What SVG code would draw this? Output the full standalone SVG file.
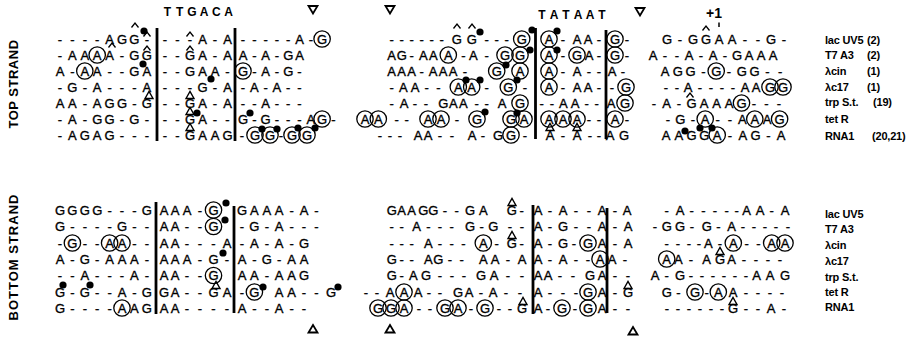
<svg xmlns="http://www.w3.org/2000/svg" xmlns:xlink="http://www.w3.org/1999/xlink" width="919" height="337" viewBox="0 0 919 337">
<style>
.s{font-family:"Liberation Sans",Arial,sans-serif;font-size:13px;text-anchor:middle;fill:#000;stroke:#000;stroke-width:0.35}
.c{fill:none;stroke:#000;stroke-width:1.3}
.d{fill:#000}
.bar{stroke:#000;stroke-width:2.8}
.car{fill:none;stroke:#000;stroke-width:1.3}
.tri{fill:none;stroke:#000;stroke-width:1.4}
.mk{fill:none;stroke:#000;stroke-width:1.8}
.lbl{font-family:"Liberation Sans",Arial,sans-serif;font-weight:bold;font-size:11px;letter-spacing:-0.2px;fill:#000}
.hd{font-family:"Liberation Sans",Arial,sans-serif;font-weight:bold;font-size:12px;text-anchor:middle;fill:#000}
.side{font-family:"Liberation Sans",Arial,sans-serif;font-weight:bold;font-size:13px;text-anchor:middle;fill:#000}
</style>
<defs>
<circle id="ci" r="8.2" class="c"/>
<circle id="dt" r="3.6" class="d"/>
<path id="ch" d="M-3.5,2.5 L0,-2 L3.5,2.5" class="car"/>
<path id="tr" d="M-4,3.5 L0,-3.5 L4,3.5 Z" class="tri"/>
</defs>
<rect width="919" height="337" fill="#fff"/>

<!-- headings -->
<g id="headings">
<text class="hd" x="167.5 179.7 191.9 204.1 216.3 228.5" y="16">TTGACA</text>
<text class="hd" x="542 554 566 578 590 602" y="19">TATAAT</text>
<text class="hd" x="714" y="18" style="font-size:14px">+1</text>
<line x1="719" y1="22.5" x2="719" y2="27" stroke="#000" stroke-width="1.5"/>
<path class="mk" d="M308.5,6 L317.5,6 L313,13.5 Z"/>
<path class="mk" d="M385.5,6 L394.5,6 L390,13.5 Z"/>
<path class="mk" d="M635.5,8 L644.5,8 L640,15.5 Z"/>
<path class="mk" d="M308.5,332.5 L317.5,332.5 L313,325 Z"/>
<path class="mk" d="M385.5,332.5 L394.5,332.5 L390,325 Z"/>
<path class="mk" d="M628.5,334.5 L637.5,334.5 L633,327 Z"/>
<text class="side" transform="translate(18,84) rotate(-90)" style="letter-spacing:0.5px">TOP STRAND</text>
<text class="side" transform="translate(18,257) rotate(-90)" style="letter-spacing:1px">BOTTOM STRAND</text>
</g>

<!-- vertical bars -->
<g id="bars">
<line class="bar" x1="157" y1="28" x2="157" y2="141"/>
<line class="bar" x1="235" y1="28" x2="235" y2="141"/>
<line class="bar" x1="535.5" y1="28" x2="535.5" y2="139"/>
<line class="bar" x1="606" y1="30" x2="606" y2="139"/>
<line class="bar" x1="156" y1="202" x2="156" y2="314"/>
<line class="bar" x1="234" y1="206" x2="234" y2="313"/>
<line class="bar" x1="533" y1="205" x2="533" y2="314"/>
<line class="bar" x1="607" y1="208" x2="607" y2="313"/>
</g>

<!-- TOP STRAND -->
<g id="top-lacUV5">
<text class="s" x="60 72.4 84.8 97.2 109.6 122 134.4 146.8" y="43.6">----AGG-</text>
<text class="s" x="165 177.5 190 202.5 215 227.5" y="43.6">---A-A</text>
<text class="s" x="243 254.3 265.6 276.9 288.2 299.5 310.8 322.1" y="43.6">-----A-G</text>
<text class="s" x="391.7 401.7 411.7 421.7 431.7 441.7 456.7 471.7 486.7 496.7 506.7 521.7" y="43.6">------GG---G</text>
<text class="s" x="549 563 577 588 599" y="43.6">A-AA-</text>
<text class="s" x="615 627" y="43.6">G-</text>
<text class="s" x="667 680 693 706 719 732 745 758 771 784" y="43.6">G-GGAA--G-</text>
<use href="#ci" x="322.1" y="39"/><use href="#ci" x="521.7" y="39"/><use href="#ci" x="549" y="39"/><use href="#ci" x="615" y="39"/>
<use href="#ch" x="135" y="25"/><use href="#ch" x="147" y="34"/><use href="#ch" x="190" y="34"/>
<use href="#ch" x="457" y="26"/><use href="#ch" x="472" y="26"/><use href="#ch" x="706" y="28"/>
<use href="#dt" x="144" y="31"/><use href="#dt" x="480" y="32"/><use href="#dt" x="532" y="30"/><use href="#dt" x="557" y="31"/>
<text class="lbl" x="825" y="44">lac UV5</text><text class="lbl" x="867" y="44">(2)</text>
</g>

<g id="top-T7A3">
<text class="s" x="60 72.4 84.8 97.2 109.6 122 134.4 146.8" y="59.6">-AAAA-GG</text>
<text class="s" x="165 177.5 190 202.5 215 227.5" y="59.6">--GA-A</text>
<text class="s" x="243 254.3 265.6 276.9 288.2 299.5" y="59.6">A-A-GA</text>
<text class="s" x="391.7 401.7 411.7 423.3 433.3 448.3 463.3 473.3 486.7 505 520" y="59.6">AG-AAA-A-GG</text>
<text class="s" x="549 563 577 589 599" y="59.6">A-GA-</text>
<text class="s" x="615 627" y="59.6">G-</text>
<text class="s" x="653 665 677 689 701 713 725 737 749 761 773" y="59.6">A--A-A-GAAA</text>
<use href="#ci" x="97.2" y="55"/><use href="#ci" x="448.3" y="55"/><use href="#ci" x="505" y="55"/><use href="#ci" x="520" y="55"/>
<use href="#ci" x="549" y="55"/><use href="#ci" x="577" y="55"/><use href="#ci" x="615" y="55"/>
<use href="#ch" x="112" y="45"/><use href="#ch" x="147" y="48"/><use href="#ch" x="190" y="48"/>
<use href="#dt" x="530" y="50"/><use href="#dt" x="557" y="50"/>
<text class="lbl" x="825" y="59">T7 A3</text><text class="lbl" x="867" y="59">(2)</text>
</g>

<g id="top-lcin">
<text class="s" x="60 72.4 84.8 97.2 109.6 122 134.4 146.8" y="75.6">A-AA--GA</text>
<text class="s" x="165 177.5 190 202.5 215 227.5" y="75.6">--GAA-</text>
<text class="s" x="243 254.3 265.6 276.9 288.2 299.5" y="75.6">G-A-G-</text>
<text class="s" x="391.7 401.7 411.7 421.7 433 443 453 465 496.7 520" y="75.6">AAA-AAA-GA</text>
<text class="s" x="549 563 577 589 599" y="75.6">A-A--</text>
<text class="s" x="612 623" y="75.6">A-</text>
<text class="s" x="665 677.8 690.6 703.4 716.2 729 741.8 754.6 767.4 780.2" y="75.6">AGG-G-GG--</text>
<use href="#ci" x="84.8" y="71"/><use href="#ci" x="243" y="71"/><use href="#ci" x="496.7" y="71"/><use href="#ci" x="520" y="71"/>
<use href="#ci" x="549" y="71"/><use href="#ci" x="716.2" y="71"/>
<use href="#dt" x="143" y="64"/><use href="#dt" x="506" y="65"/>
<text class="lbl" x="825" y="75">λcin</text><text class="lbl" x="867" y="75">(1)</text>
</g>

<g id="top-lc17">
<text class="s" x="60 72.4 84.8 97.2 109.6 122 134.4 146.8" y="91.6">-G-A---A</text>
<text class="s" x="165 177.5 190 202.5 215 227.5" y="91.6">---G-A</text>
<text class="s" x="243 254.3 265.6 276.9 288.2 299.5" y="91.6">-A-A--</text>
<text class="s" x="391.7 403.3 415 426.7 438.3 458.3 471.7 486.7 508.3 525" y="91.6">-AA--AA-G-</text>
<text class="s" x="549 563 577 588 599" y="91.6">A-AA-</text>
<text class="s" x="612 626" y="91.6">-G</text>
<text class="s" x="666 677 688 700 711 722 733 745 756 770 783" y="91.6">--A----AAGG</text>
<use href="#ci" x="458.3" y="87"/><use href="#ci" x="471.7" y="87"/><use href="#ci" x="508.3" y="87"/>
<use href="#ci" x="549" y="87"/><use href="#ci" x="626" y="87"/><use href="#ci" x="770" y="87"/><use href="#ci" x="783" y="87"/>
<use href="#dt" x="211" y="79"/><use href="#dt" x="466" y="80"/><use href="#dt" x="480" y="80"/><use href="#dt" x="517" y="80"/>
<text class="lbl" x="825" y="91">λc17</text><text class="lbl" x="867" y="91">(1)</text>
</g>

<g id="top-trpSt">
<text class="s" x="60 72.4 84.8 97.2 109.6 122 134.4 146.8" y="107.6">AA-AGG-G</text>
<text class="s" x="165 177.5 190 202.5 215 227.5" y="107.6">--GA-A</text>
<text class="s" x="243 254.3 265.6 276.9 288.2 299.5" y="107.6">--A---</text>
<text class="s" x="391.7 404 415 426 443.3 453.3 463.3 476.7 486.7 502 520" y="107.6">-A--GAA--AG</text>
<text class="s" x="541.7 552 563.3 575 586.7 596.7" y="107.6">--AA--</text>
<text class="s" x="611 625" y="107.6">AG</text>
<text class="s" x="654 666.5 679 691.5 704 716.5 729 741.5 754 766.5 779" y="107.6">-A-GAAAG---</text>
<use href="#ci" x="520" y="103"/><use href="#ci" x="625" y="103"/><use href="#ci" x="741.5" y="103"/>
<use href="#tr" x="149" y="95"/><use href="#tr" x="190" y="95"/><use href="#ch" x="690" y="95"/>
<text class="lbl" x="825" y="106">trp S.t.</text><text class="lbl" x="873" y="106">(19)</text>
</g>

<g id="top-tetR">
<text class="s" x="60 72.4 84.8 97.2 109.6 122 134.4 146.8" y="123.6">-A-GG-G-</text>
<text class="s" x="165 177.5 190 202.5 215 227.5" y="123.6">--GA--</text>
<text class="s" x="243 254.3 265.6 276.9 288.2 299.5 310.8 322.1 333.4" y="123.6">G-G---AG-</text>
<text class="s" x="365 378.3 396.7 406.7 428 441 457 477" y="123.6">AA--AA-G</text>
<text class="s" x="511 524" y="123.6">GA</text>
<text class="s" x="549 563 577 589 599" y="123.6">AAA--</text>
<text class="s" x="615 627" y="123.6">A-</text>
<text class="s" x="668 680.4 692.8 705.2 717.6 730 742.4 754.8 767.2 779.6" y="123.6">-G-A--AAAG</text>
<use href="#ci" x="322.1" y="119"/><use href="#ci" x="365" y="119"/><use href="#ci" x="378.3" y="119"/>
<use href="#ci" x="428" y="119"/><use href="#ci" x="441" y="119"/><use href="#ci" x="477" y="119"/>
<use href="#ci" x="511" y="119"/><use href="#ci" x="524" y="119"/>
<use href="#ci" x="549" y="119"/><use href="#ci" x="563" y="119"/><use href="#ci" x="577" y="119"/><use href="#ci" x="615" y="119"/>
<use href="#ci" x="705.2" y="119"/><use href="#ci" x="754.8" y="119"/><use href="#ci" x="779.6" y="119"/>
<use href="#tr" x="190" y="111"/>
<use href="#dt" x="197" y="113"/><use href="#dt" x="250" y="113"/><use href="#dt" x="485" y="112"/><use href="#dt" x="517" y="113"/>
<text class="lbl" x="825" y="123">tet R</text>
</g>

<g id="top-RNA1">
<text class="s" x="60 72.4 84.8 97.2 109.6 122 134.4 146.8" y="139.6">-AGAG---</text>
<text class="s" x="165 177.5 190 202.5 215 227.5" y="139.6">--GAAG</text>
<text class="s" x="242 255 270 281 292 307" y="139.6">-GG-GG</text>
<text class="s" x="380 390 400 418 428 440 452 472 483 498 511 525" y="139.6">---AA--A-GG-</text>
<text class="s" x="550 563 577 590 599" y="139.6">A-A--</text>
<text class="s" x="610 624" y="139.6">AG</text>
<text class="s" x="666 678.8 691.6 704.4 717.2 730 742.8 755.6 768.4 781.2" y="139.6">AAGGA-AG-A</text>
<use href="#ci" x="255" y="135"/><use href="#ci" x="270" y="135"/><use href="#ci" x="292" y="135"/><use href="#ci" x="307" y="135"/>
<use href="#ci" x="511" y="135"/><use href="#ci" x="717.2" y="135"/>
<use href="#tr" x="190" y="127"/><use href="#tr" x="550" y="127"/><use href="#tr" x="577" y="127"/>
<use href="#dt" x="262" y="129"/><use href="#dt" x="277" y="129"/><use href="#dt" x="298" y="128"/><use href="#dt" x="315" y="128"/>
<use href="#dt" x="685" y="131"/><use href="#dt" x="700" y="128"/><use href="#dt" x="712" y="128"/>
<text class="lbl" x="825" y="140">RNA1</text><text class="lbl" x="872" y="140">(20,21)</text>
</g>

<!-- BOTTOM STRAND -->
<g id="bot-lacUV5">
<text class="s" x="60 72.4 84.8 97.2 109.6 122 134.4 146.8" y="214.6">GGGG---G</text>
<text class="s" x="164 175 187 200 213.5" y="214.6">AAA-G</text>
<text class="s" x="242 254.4 266.8 279.2 291.6 304 316.4" y="214.6">GAAA-A-</text>
<text class="s" x="391.7 401.7 411.7 423.3 433.3 445 456.7 470 483.3 511.7 521.7" y="214.6">GAAGG--GAG-</text>
<text class="s" x="538 550 563 576 589 602" y="214.6">A-A--A</text>
<text class="s" x="615 627" y="214.6">-A</text>
<text class="s" x="666.7 680 691.7 703.3 715 726.7 736.7 746.7 760 771.7 785" y="214.6">-A-----AA-A</text>
<use href="#ci" x="213.5" y="210"/>
<use href="#tr" x="512" y="202"/>
<use href="#dt" x="226" y="203"/>
<text class="lbl" x="825" y="217.5">lac UV5</text>
</g>

<g id="bot-T7A3">
<text class="s" x="60 72.4 84.8 97.2 109.6 122 134.4 146.8" y="231.1">G----G--</text>
<text class="s" x="164 175 187 200 213.5" y="231.1">AA--G</text>
<text class="s" x="242 254.4 266.8 279.2 291.6 304 316.4" y="231.1">-G-A---</text>
<text class="s" x="391.7 401.7 416.7 428.3 440 451.7 470 481.7 493.3 510 522" y="231.1">--A---G-G--</text>
<text class="s" x="538 550 563 576 589 602" y="231.1">A-G--A</text>
<text class="s" x="615 628" y="231.1">-A</text>
<text class="s" x="655 666.7 680 692 706.7 718.3 731.7 743 754 765 776 788" y="231.1">-GG-G-A-----</text>
<use href="#ci" x="213.5" y="226.5"/>
<use href="#dt" x="225" y="220"/>
<text class="lbl" x="825" y="232.5">T7 A3</text>
</g>

<g id="bot-lcin">
<text class="s" x="60 72.4 84.8 97.2 109.6 122 134.4 146.8" y="247.6">-G--AA--</text>
<text class="s" x="164 175 187 200 213.5 227" y="247.6">AA---A</text>
<text class="s" x="242 254.4 266.8 279.2 291.6 304" y="247.6">-A-A-G</text>
<text class="s" x="391.7 401.7 411.7 428.3 440 451.7 463.3 483.3 496.7 511.7 521.7" y="247.6">---A---A-G-</text>
<text class="s" x="538 550 563 574 588 602" y="247.6">A-G-GA</text>
<text class="s" x="615 628" y="247.6">-A</text>
<text class="s" x="666.7 678 689 699 708.3 720 733.3 746.7 758.3 771.7 785" y="247.6">----A-A--AA</text>
<use href="#ci" x="72.4" y="243"/><use href="#ci" x="109.6" y="243"/><use href="#ci" x="122" y="243"/>
<use href="#ci" x="483.3" y="243"/><use href="#ci" x="588" y="243"/>
<use href="#ci" x="733.3" y="243"/><use href="#ci" x="771.7" y="243"/><use href="#ci" x="785" y="243"/>
<use href="#tr" x="512" y="235"/>
<text class="lbl" x="825" y="248.5">λcin</text>
</g>

<g id="bot-lc17">
<text class="s" x="60 72.4 84.8 97.2 109.6 122 134.4 146.8" y="263.6">A-G-AAA-</text>
<text class="s" x="164 175 187 200 213.5 227" y="263.6">AAA-G-</text>
<text class="s" x="242 254.4 266.8 279.2 291.6 304" y="263.6">A-G-AA</text>
<text class="s" x="391.7 401.7 411.7 428.3 438.3 450 461.7 483.3 495 508 522" y="263.6">G--AG--AA-A</text>
<text class="s" x="538 550 563 576 588 600" y="263.6">A-A--A</text>
<text class="s" x="612 625" y="263.6">A-</text>
<text class="s" x="666.7 678.3 691 706.7 720 731.7 744 756 768 780" y="263.6">AA-AGA----</text>
<use href="#ci" x="600" y="259"/><use href="#ci" x="666.7" y="259"/>
<use href="#tr" x="720" y="251"/>
<use href="#dt" x="223" y="253"/>
<text class="lbl" x="825" y="264.5">λc17</text>
</g>

<g id="bot-trpSt">
<text class="s" x="60 72.4 84.8 97.2 109.6 122 134.4 146.8" y="280.1">--A---A-</text>
<text class="s" x="164 175 187 200 213.5" y="280.1">AA--G</text>
<text class="s" x="242 254.4 266.8 279.2 291.6 304" y="280.1">AA-AAG</text>
<text class="s" x="391.7 401.7 413.3 426 440 452 464 481 494 508 522" y="280.1">G-AG---GA--</text>
<text class="s" x="538 548 560 573 590 602" y="280.1">AA--GA</text>
<text class="s" x="615 628" y="280.1">--</text>
<text class="s" x="655 666.7 680 691 702 713 724 735 746 756.7 770 785" y="280.1">A-G------AAG</text>
<use href="#ci" x="213.5" y="275.5"/>
<text class="lbl" x="825" y="281">trp S.t.</text>
</g>

<g id="bot-tetR">
<text class="s" x="60 72.4 84.8 97.2 109.6 122 134.4 146.8" y="296.6">G-G--A-G</text>
<text class="s" x="164 175 187 200 213.5 227" y="296.6">GA--GA</text>
<text class="s" x="242 254.4 279.2 291.6 304 316.4 331" y="296.6">-GAA--G</text>
<text class="s" x="366 377 390 404 418 429 440 458 469 481 493 506 520" y="296.6">--AAA--GA-A--</text>
<text class="s" x="538 550 563 576 588 602" y="296.6">A---GA</text>
<text class="s" x="615 628" y="296.6">-G</text>
<text class="s" x="666.7 678.3 695 706.7 718.3 733 746 758 770 782" y="296.6">G-G-AA----</text>
<use href="#ci" x="254.4" y="292"/><use href="#ci" x="404" y="292"/><use href="#ci" x="588" y="292"/>
<use href="#ci" x="695" y="292"/><use href="#ci" x="718.3" y="292"/>
<use href="#tr" x="216" y="285"/><use href="#tr" x="628" y="285"/>
<use href="#dt" x="63" y="285"/><use href="#dt" x="90" y="285"/><use href="#dt" x="263" y="287"/><use href="#dt" x="338" y="287"/>
<text class="lbl" x="825" y="296">tet R</text>
</g>

<g id="bot-RNA1">
<text class="s" x="60 72.4 84.8 97.2 109.6 122 134.4 146.8" y="312.6">G----AAG</text>
<text class="s" x="164 175 187 200 213.5 227" y="312.6">AA----</text>
<text class="s" x="242 254.4 266.8 279.2 291.6 304" y="312.6">A--A--</text>
<text class="s" x="378 391 404 419 430 445 458 471 485 499 510 522" y="312.6">GGA--GA-G--G</text>
<text class="s" x="538 548 562 575 588 602" y="312.6">A-G-GA</text>
<text class="s" x="615 628" y="312.6">--</text>
<text class="s" x="667 678 689 700 711 722 733 746 758 771 784" y="312.6">------G--A-</text>
<use href="#ci" x="122" y="308"/>
<use href="#ci" x="378" y="308"/><use href="#ci" x="391" y="308"/><use href="#ci" x="404" y="308"/>
<use href="#ci" x="445" y="308"/><use href="#ci" x="458" y="308"/><use href="#ci" x="485" y="308"/>
<use href="#ci" x="562" y="308"/><use href="#ci" x="588" y="308"/>
<use href="#tr" x="523" y="301"/><use href="#tr" x="733" y="301"/>
<text class="lbl" x="825" y="311">RNA1</text>
</g>
</svg>
